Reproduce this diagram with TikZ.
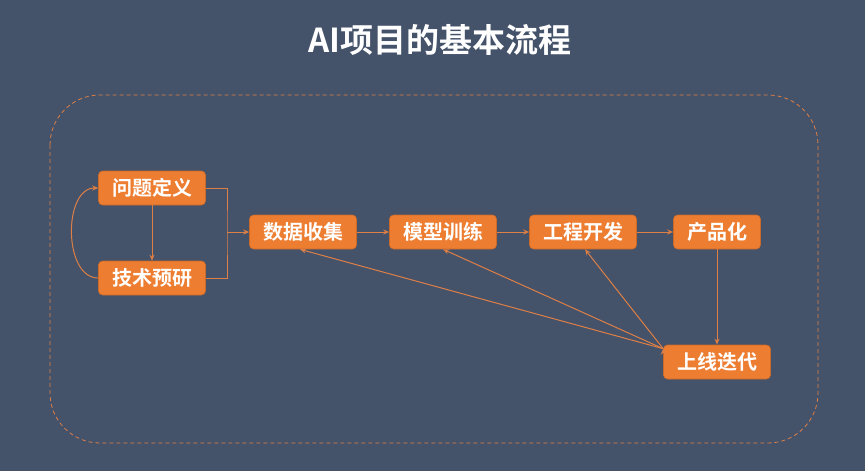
\documentclass[tikz,border=0pt]{standalone}
\usepackage{fontspec}
\setmainfont{Noto Sans CJK SC}
\newfontfamily\titlefont{Noto Sans CJK SC Bold}
\usetikzlibrary{arrows.meta, positioning}
\definecolor{bgslate}{RGB}{68,82,106}
\definecolor{boxorange}{RGB}{237,125,49}
\definecolor{lineorange}{RGB}{222,128,70}

\begin{document}
\begin{tikzpicture}[x=1pt,y=-1pt,thick,>={Stealth[length=6pt,width=5pt]}]
		\tikzstyle{step box}=[draw=boxorange!85!black,line width=0.6pt,fill=boxorange,rounded corners=4pt,
			text=white,font=\titlefont\fontsize{20}{22}\selectfont,inner xsep=13.5pt,inner ysep=0pt,minimum height=34pt]
		\tikzstyle{flow}=[draw=lineorange,line width=1pt]
		
		% background and frame
		\fill[bgslate] (0,0) rectangle (865,471);
		\useasboundingbox (0,0) rectangle (865,471);
		\draw[lineorange,line width=0.8pt,dashed,dash pattern=on 4pt off 3pt,rounded corners=50pt] (50,95) rectangle (818,443);
		\node[text=white,font=\titlefont\fontsize{33}{36}\selectfont] (title) at (440,40) {AI项目的基本流程};
		
		\node[step box] (define) at (152,188) {问题定义};
		\node[step box] (research) at (152,278) {技术预研};
		\node[step box] (collect) at (303,232) {数据收集};
		\node[step box] (train) at (443,232) {模型训练};
		\node[step box] (develop) at (583,232) {工程开发};
		\node[step box] (product) at (717,232) {产品化};
		\node[step box] (iterate) at (717,362) {上线迭代};
		\coordinate (join) at (227,232);
		
		\path[flow,->] (define) edge (research);
		\draw[flow,->] (research.west) to[out=180,in=180,looseness=1.0] (define.west);
		\draw[flow] (define.east) -| (join) |- (research.east);
		\draw[flow,->] (join) -- (collect);
		\path[flow,->]
		(collect) edge (train)
		(train) edge (develop)
		(develop) edge (product)
		(product) edge (iterate);
		\path[flow,->]
		([yshift=-4pt]iterate.north west) edge ([xshift=-3pt]collect.south)
		([yshift=-4pt]iterate.north west) edge (train.south)
		([yshift=-4pt]iterate.north west) edge ([xshift=2pt]develop.south);

	\end{tikzpicture}
\end{document}
